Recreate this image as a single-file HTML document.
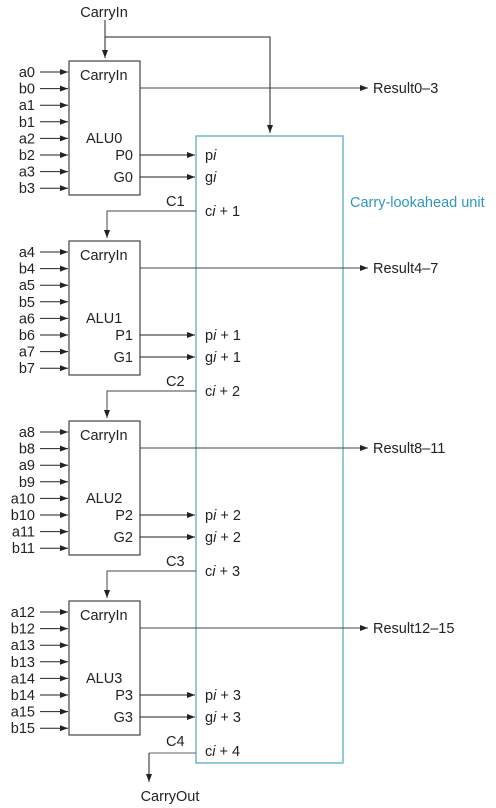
<!DOCTYPE html>
<html><head><meta charset="utf-8"><style>
body{margin:0;background:#fff}
svg{display:block;font-family:"Liberation Sans",sans-serif;font-size:14.5px;fill:#222}
text{fill:#222}
</style></head><body>
<svg id="d" width="496" height="808" viewBox="0 0 496 808">
<defs><marker id="ar" markerWidth="8" markerHeight="6" refX="8" refY="3" orient="auto" markerUnits="userSpaceOnUse"><path d="M0,0L8,3L0,6z" fill="#222"/></marker></defs>
<rect x="196" y="136" width="147" height="627" fill="none" stroke="#6fb8cc" stroke-width="1.5"/>
<text x="350" y="207" style="fill:#2f97bf">Carry-lookahead unit</text>
<text x="104" y="17" text-anchor="middle">CarryIn</text>
<path d="M105,20V58" stroke="#222" fill="none" marker-end="url(#ar)"/>
<path d="M105,37H270V133" stroke="#222" fill="none" marker-end="url(#ar)"/>
<path d="M149,753H196" stroke="#666" fill="none"/>
<path d="M149,753V782" stroke="#222" fill="none" marker-end="url(#ar)"/>
<text x="170" y="801" text-anchor="middle">CarryOut</text>
<g id="g"></g>
</svg>
<script>
const results=["Result0–3","Result4–7","Result8–11","Result12–15"];
const g=document.getElementById('g');
const NS="http://www.w3.org/2000/svg";
function mk(t,a,txt){const e=document.createElementNS(NS,t);for(const k in a)e.setAttribute(k,a[k]);if(txt!==undefined)e.innerHTML=txt;g.appendChild(e);return e;}
for(let k=0;k<4;k++){
 const o=k*180;
 const b=mk('rect',{x:69,y:61+o,width:71,height:134,fill:'#fff',stroke:'#444','stroke-width':1.2});
 
 
 mk('text',{x:80,y:80+o},'CarryIn');
 mk('text',{x:86,y:143+o},'ALU'+k);
 mk('text',{x:133,y:160+o,'text-anchor':'end'},'P'+k);
 mk('text',{x:133,y:182+o,'text-anchor':'end'},'G'+k);
 for(let j=0;j<8;j++){
  const y=72+o+j*16.6;
  const idx=k*4+Math.floor(j/2);
  const lab=(j%2?'b':'a')+idx;
  const t=mk('text',{x:35,y:y+5,'text-anchor':'end'},lab);
  
  
  mk('path',{d:`M40,${y}H68`,stroke:'#222',fill:'none','marker-end':'url(#ar)'});
 }
 const r=mk('path',{d:`M140,${88+o}H368`,stroke:'#444',fill:'none','marker-end':'url(#ar)'});
 
 
 const rt=mk('text',{x:373,y:93+o},results[k]);
 
 
 mk('path',{d:`M140,${155+o}H195`,stroke:'#222',fill:'none','marker-end':'url(#ar)'});
 mk('path',{d:`M140,${177+o}H195`,stroke:'#222',fill:'none','marker-end':'url(#ar)'});
 const s=k?' + '+k:'';
 mk('text',{x:205,y:160+o},'p<tspan font-style="italic">i</tspan>'+s);
 mk('text',{x:205,y:182+o},'g<tspan font-style="italic">i</tspan>'+s);
 mk('text',{x:205,y:216+o},'c<tspan font-style="italic">i</tspan> + '+(k+1));
 mk('text',{x:166,y:206+o},'C'+(k+1));
 if(k<3){
  const w=mk('path',{d:`M196,${211+o}H107V${238+o}`,stroke:'#444',fill:'none','marker-end':'url(#ar)'});
  
  
 }
}
</script>
</body></html>
